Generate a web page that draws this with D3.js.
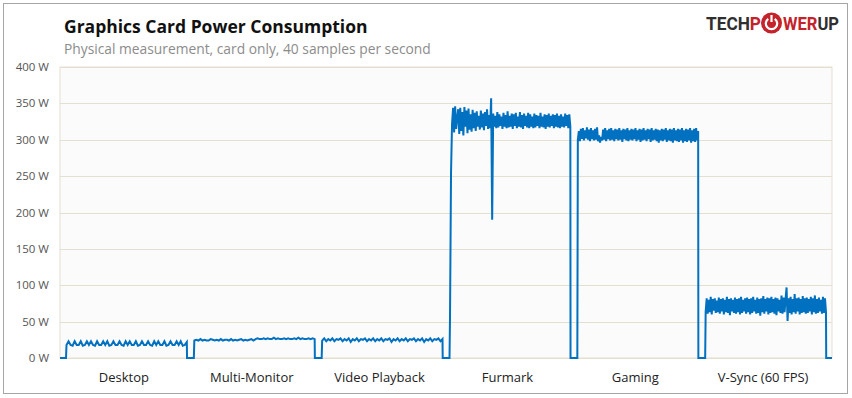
<!DOCTYPE html>
<html>
<head>
<meta charset="utf-8">
<script src="https://cdn.jsdelivr.net/npm/d3@7"></script>
<style>
  body { margin: 0; background: #fff; }
  svg text { font-family: "Open Sans", "Noto Sans", sans-serif; }
</style>
</head>
<body>
<svg id="chart" width="852" height="398"></svg>
<script>
const categories = ['Desktop', 'Multi-Monitor', 'Video Playback', 'Furmark', 'Gaming', 'V-Sync (60 FPS)'];
const yTicks = [0, 50, 100, 150, 200, 250, 300, 350, 400];

// watts (idle runs ~1 value per 2px, load runs ~1 per px)
const desktop = [18,23,18,17,23,18,18,23,17,18,23,18,23,18,17,23,18,18,23,18,23,17,18,23,18,18,23,18,17,23,18,23,18,18,23,17,18,23,18,18,23,18,17,23,18,23,18,18,23,17,18,23,18,18,23,18,23,17,18,22];
const multiMonitor = [24,25,24,26,24,25,24,24,26,25,24,25,24,26,24,25,25,24,26,24,25,24,25,26,24,25,24,25,26,24,26,27,26,26,27,26,27,26,26,28,26,27,26,26,27,26,27,26,26,27,26,28,26,27,26,26,27,26,27,26];
const videoPlayback = [24,27,23,26,24,27,23,26,25,27,23,26,24,27,22,26,24,27,23,26,25,27,23,26,24,27,23,26,24,27,23,26,25,27,22,26,24,27,23,26,24,27,23,26,25,27,23,26,24,27,22,26,24,27,23,26,25,27,23,26];
const furmark = [
  55,255,322,344,310,346,315,330,342,308,344,312,338,306,345,318,340,309,343,314,335,311,
  341,316,337,312,339,318,333,314,340,317,336,313,338,319,342,315,334,316,357,190,
  336,318,333,316,338,317,335,319,332,315,337,318,334,316,339,317,333,318,336,315,
  335,319,337,316,332,318,338,317,334,315,336,319,333,317,337,316,335,318,332,316,
  336,317,334,319,333,316,337,318,332,317,335,315,334,318,336,317,333,319,335,316,
  334,318,336,317,333,316,335,318,332,317,336,319,334,316,335,318];
const gaming = [
  300,312,298,315,301,316,299,313,302,317,300,314,298,316,301,313,299,315,300,317,
  298,306,296,304,299,314,300,316,298,313,301,315,299,316,300,313,298,315,301,314,
  299,316,300,313,297,315,301,314,299,316,298,313,300,315,299,314,301,316,298,313,
  300,315,297,314,299,316,300,313,298,315,301,314,297,316,299,313,300,315,298,314,
  296,313,299,315,298,314,300,316,297,313,299,315,298,314,296,316,299,313,298,315,
  297,314,299,316,296,313,298,315,297,314,299,316,296,313,298,315,297,316,299,312];
const vsync = [
  64,82,61,80,63,84,60,81,65,82,62,79,63,83,61,81,64,82,60,80,
  63,84,62,81,59,82,64,80,62,83,61,81,63,82,60,84,62,80,64,82,
  61,83,63,81,60,82,62,84,64,80,61,83,62,81,58,82,63,85,61,81,
  64,83,60,82,62,84,63,81,61,83,59,82,64,80,62,86,61,83,63,81,
  97,51,82,62,84,60,81,63,88,61,82,64,83,60,81,62,85,63,82,61,
  83,62,81,64,84,60,82,63,86,61,81,62,83,64,80,61,84,62,82,63];
const series = [desktop, multiMonitor, videoPlayback, furmark, gaming, vsync];

const svg = d3.select('#chart');
const plot = { left: 60, right: 832, top: 67, bottom: 358 };

// outer frame
svg.append('rect')
  .attr('x', 3.5).attr('y', 3.5).attr('width', 844).attr('height', 390)
  .attr('fill', '#fff').attr('stroke', '#a6a6a6');

svg.append('text')
  .attr('x', 64).attr('y', 33)
  .attr('font-size', 17.5).attr('font-weight', 'bold').attr('fill', '#111')
  .text('Graphics Card Power Consumption');

svg.append('text')
  .attr('x', 64).attr('y', 54)
  .attr('font-size', 13.8).attr('fill', '#8c8c8c')
  .text('Physical measurement, card only, 40 samples per second');

// logo
const red = '#c4232b', dark = '#2f2f2f';
const logo = svg.append('g');
const logoText = (x, w) => logo.append('text')
  .attr('x', x).attr('y', 30).attr('font-size', 18).attr('font-weight', 'bold')
  .style('font-family', 'Roboto, sans-serif')
  .attr('textLength', w).attr('lengthAdjust', 'spacingAndGlyphs');
const left = logoText(706, 55);
left.append('tspan').attr('fill', dark).text('TECH');
left.append('tspan').attr('fill', red).text('P');
const right = logoText(783, 56);
right.append('tspan').attr('fill', red).text('WER');
right.append('tspan').attr('fill', dark).text('UP');
logo.append('circle').attr('cx', 771.5).attr('cy', 23).attr('r', 10.5).attr('fill', red);
const ring = d3.arc().innerRadius(4.6).outerRadius(6.8).startAngle(0.6).endAngle(2 * Math.PI - 0.6);
logo.append('path').attr('d', ring()).attr('transform', 'translate(771.5,23.5)').attr('fill', '#fff');
logo.append('line').attr('x1', 771.5).attr('x2', 771.5).attr('y1', 15).attr('y2', 22)
  .attr('stroke', '#fff').attr('stroke-width', 2.2);

// scales
const x = d3.scaleBand().domain(categories).range([plot.left, 827]);
const y = d3.scaleLinear().domain([0, 400]).range([plot.bottom, plot.top]);

svg.append('rect')
  .attr('x', plot.left).attr('y', plot.top)
  .attr('width', plot.right - plot.left).attr('height', plot.bottom - plot.top)
  .attr('fill', '#fbfbfb').attr('stroke', '#e3dfd1');

svg.append('g')
  .selectAll('line')
  .data(yTicks)
  .join('line')
  .attr('x1', plot.left).attr('x2', plot.right)
  .attr('y1', d => Math.round(y(d)) + 0.5).attr('y2', d => Math.round(y(d)) + 0.5)
  .attr('stroke', '#e3dfd1');

svg.append('g')
  .selectAll('text')
  .data(yTicks)
  .join('text')
  .attr('x', 49).attr('y', d => y(d) + 4)
  .attr('text-anchor', 'end').attr('font-size', 11.5).attr('fill', '#555')
  .text(d => `${d} W`);

svg.append('g')
  .selectAll('text')
  .data(categories)
  .join('text')
  .attr('x', d => x(d) + x.bandwidth() / 2).attr('y', 382)
  .attr('text-anchor', 'middle').attr('font-size', 13).attr('fill', '#222')
  .text(d => d);

// build the trace: idle at 0 between runs
const points = [];
categories.forEach((c, k) => {
  const b = x(c), bw = x.bandwidth();
  const vals = series[k];
  const xs = d3.scaleLinear().domain([0, vals.length - 1]).range([b + 6.5, b + bw - 1]);
  points.push([b, 0], [b + 6, 0]);
  vals.forEach((v, i) => points.push([xs(i), v]));
  points.push([b + bw - 0.8, 0]);
});
points.push([plot.right, 0]);

const line = d3.line().x(d => d[0]).y(d => y(d[1]));

svg.append('path')
  .datum(points)
  .attr('d', line)
  .attr('fill', 'none')
  .attr('stroke', '#0070c0')
  .attr('stroke-width', 2);
</script>
</body>
</html>
